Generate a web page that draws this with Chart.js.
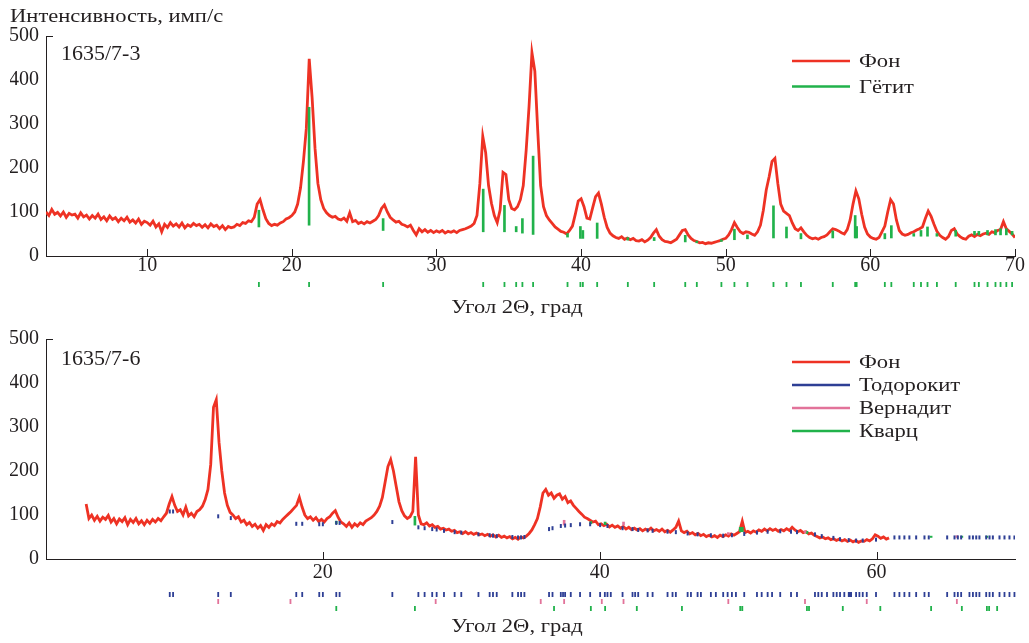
<!DOCTYPE html>
<html lang="ru">
<head>
<meta charset="utf-8">
<title>Дифрактограммы 1635/7-3 и 1635/7-6</title>
<script src="https://cdn.jsdelivr.net/npm/chart.js@4.4.1/dist/chart.umd.min.js"></script>
<style>
  body { margin: 0; background: #fff; }
  .panel { position: absolute; left: 0; width: 1029px; }
</style>
</head>
<body>
<div class="panel" style="top:0;height:320px"><canvas id="chartTop"></canvas></div>
<div class="panel" style="top:320px;height:323px"><canvas id="chartBottom"></canvas></div>
<script>
const FONT = "'Liberation Serif', 'Times New Roman', serif";
const INK = '#231F20';
const RED = '#EE3224';
const BLUE = '#2E3F95';
const PINK = '#E2739A';
const GREEN = '#21B24B';

const yTicks = [0, 100, 200, 300, 400, 500];

// --- sample 1635/7-3 : scan from 3.0 deg, 0.2 deg step
const scanStart1 = 3.0;
const scanStep1 = 0.2;
const counts1 = [
  100, 92, 106, 95, 99,   91, 100, 88, 97, 93,   95, 86, 98, 89, 93,   84, 92, 86, 95, 83,
  89, 80, 91, 83, 87,     78, 86, 80, 88, 77,    82, 75, 84, 72, 79,   76, 70, 79, 66, 73,
  55, 72, 65, 76, 68,     73, 66, 75, 64, 71,    67, 74, 69, 72, 65,   71, 64, 73, 67, 70,
  62, 69, 60, 67, 64,     66, 72, 69, 76, 74,    80, 78, 88, 118, 128, 105, 85, 74, 69, 72,
  70, 75, 78, 84, 87,     92, 100, 118, 155, 215, 290, 448, 360, 245, 165, 128, 108, 98, 92, 88,
  90, 84, 82, 86, 79,     98, 78, 81, 74, 77,    73, 78, 75, 79, 83,   92, 108, 116, 100, 88,
  82, 77, 79, 72, 70,     66, 70, 58, 48, 62,    55, 60, 54, 58, 53,   57, 54, 58, 52, 56,
  54, 57, 53, 58, 60,     62, 65, 68, 74, 92,    165, 272, 235, 160, 120, 92, 76, 105, 190, 185,
  128, 108, 105, 112, 128, 160, 240, 340, 462, 420, 285, 160, 112, 92, 82, 74, 66, 61, 56, 54,
  50, 58, 68, 95, 125,    130, 112, 86, 84, 110, 135, 143, 118, 88, 65, 52, 46, 42, 40, 44,
  38, 41, 37, 40, 35,     34, 37, 32, 36, 42,    52, 60, 45, 37, 33,   32, 30, 34, 38, 48,
  58, 60, 48, 40, 35,     33, 30, 31, 28, 30,    29, 31, 33, 35, 38,   40, 48, 60, 76, 65,
  55, 51, 55, 54, 50,     47, 55, 70, 104, 150,  180, 215, 222, 165, 118, 102, 97, 92, 75, 62,
  58, 64, 55, 47, 42,     39, 41, 38, 42, 44,    48, 55, 62, 60, 57,   53, 50, 60, 82, 118,
  148, 130, 95, 66, 50,   43, 40, 38, 42, 55,    68, 100, 128, 118, 82, 58, 50, 47, 49, 53,
  55, 59, 62, 66, 85,     102, 90, 72, 56, 47,   42, 38, 44, 58, 62,   50, 44, 40, 38, 45,
  48, 44, 49, 46, 50,     52, 49, 55, 53, 58,    60, 78, 62, 56, 50,   42
];
const goethiteAngles = [17.72, 21.19, 26.31, 33.23, 34.7, 35.51, 35.94, 36.68, 39.06, 39.95, 40.12, 41.11, 43.23,
  45.05, 47.2, 48.0, 49.7, 50.6, 51.5, 53.3, 54.2, 55.2, 57.4, 58.95, 59.05, 61.0, 61.45, 63.0, 63.5, 63.95,
  64.6, 65.9, 67.2, 67.5, 68.1, 68.65, 69.0, 69.4, 69.8];
const goethiteBase = [66, 70, 58, 55, 55, 55, 52, 49, 43, 40, 40, 40, 36, 35, 32, 30, 33, 37, 39, 41, 41, 39, 41,
  41, 41, 39, 41, 45, 45, 45, 45, 45, 48, 48, 48, 48, 48, 48, 48];
const goethiteTop = [104, 338, 85, 152, 115, 67, 85, 227, 51, 67, 58, 75, 42, 42, 47, 34, 37, 61, 48, 114, 66, 51,
  57, 92, 67, 51, 69, 51, 58, 66, 51, 58, 56, 56, 58, 60, 62, 62, 56];
const xTicks1 = [10, 20, 30, 40, 50, 60, 70];

// --- sample 1635/7-6 : scan from 2.9 deg, 0.2 deg step
const scanStart2 = 2.9;
const scanStep2 = 0.2;
const counts2 = [
  125, 92, 100, 88, 97, 86,
  95, 90, 99, 84, 92,     80, 91, 85, 94, 78,    90, 83, 92, 80, 87,   78, 88, 81, 90, 84,
  92, 87, 96, 104, 125,   142, 122, 108, 112, 100, 118, 98, 104, 96, 108, 112, 120, 135, 158, 215,
  345, 362, 265, 200, 150, 122, 106, 100, 92, 96, 84, 88, 78, 83, 74,   79, 70, 76, 65, 78,
  72, 80, 76, 85, 82,     90, 96, 102, 108, 115, 122, 140, 118, 100, 92, 96, 88, 94, 85, 90,
  84, 92, 96, 104, 110,   95, 84, 80, 74, 82,    72, 80, 75, 82, 78,   86, 90, 94, 100, 108,
  120, 140, 175, 210, 226, 200, 165, 130, 110, 98, 92, 96, 108, 232, 100, 80, 78, 82, 75, 78,
  72, 74, 68, 70, 66,     68, 63, 65, 60, 62,    58, 62, 57, 60, 56,   59, 55, 57, 53, 56,
  52, 55, 50, 54, 49,     52, 48, 51, 46, 49,    45, 50, 48, 52, 58,   66, 78, 92, 118, 150,
  158, 145, 150, 138, 145, 148, 136, 142, 128, 132, 122, 115, 108, 102, 95, 92, 88, 84, 86, 78,
  80, 76, 79, 73, 77,     72, 75, 70, 74, 68,    72, 67, 70, 66, 69,   64, 68, 65, 70, 64,
  67, 63, 68, 62, 65,     61, 66, 72, 86, 64,    60, 63, 57, 60, 55,   58, 53, 56, 51, 54,
  50, 53, 49, 54, 51,     55, 52, 57, 54, 58,    62, 86, 60, 63, 59,   64, 61, 66, 63, 68,
  64, 69, 65, 68, 63,     67, 64, 69, 65, 72,    66, 62, 65, 60, 62,   57, 59, 54, 51, 48,
  50, 46, 48, 44, 46,     42, 45, 41, 44, 40,    43, 39, 42, 38, 41,   40, 44, 41, 46, 55,
  52, 47, 50, 45, 48
];
const todorokiteAngles = [8.94, 9.18, 12.44, 13.35, 18.08, 18.51, 19.74, 20.0, 20.97, 21.21, 25.02, 26.9, 27.35,
  27.9, 28.22, 28.75, 29.52, 30.0, 31.24, 32.05, 32.29, 32.56, 33.69, 34.1, 34.32, 34.56, 36.34, 36.59, 37.19,
  37.35, 37.5, 37.91, 38.58, 39.31, 40.03, 40.37, 40.56, 40.8, 41.65, 42.37, 42.56, 42.78, 43.46, 43.82, 44.9,
  45.26, 45.5, 46.35, 46.59, 47.07, 47.31, 48.03, 48.39, 48.92, 49.24, 49.55, 49.84, 50.44, 51.36, 51.7, 52.13,
  52.45, 53.04, 53.82, 54.25, 55.55, 55.79, 56.04, 56.42, 56.88, 57.12, 57.36, 57.67, 57.99, 58.08, 58.16, 58.52,
  58.76, 59.0, 59.29, 59.96, 61.29, 61.65, 62.01, 62.37, 62.86, 63.46, 63.77, 65.1, 65.63, 65.87, 66.11, 66.71,
  66.96, 67.2, 67.43, 67.92, 68.16, 68.4, 68.88, 69.24, 69.6, 69.96];
const vernaditeAngles = [12.44, 17.66, 28.15, 35.74, 37.43, 40.15, 41.72, 49.29, 54.83, 59.29, 65.8];
const quartzAngles = [20.97, 26.65, 36.7, 39.36, 40.39, 42.68, 45.94, 50.15, 50.3, 54.97, 55.12, 57.56, 60.27,
  63.94, 66.16, 67.97, 68.13, 68.71];

// calculated todorokite positions seen inside the plot
const todorokiteDotAngles = [8.94, 9.18, 12.44, 13.35, 18.08, 18.51, 19.74, 20.0, 20.97, 21.21, 25.02, 26.9, 27.35,
  27.9, 28.22, 28.75, 29.52, 30.0, 31.24, 32.05, 32.29, 32.56, 33.69, 34.1, 34.32, 34.56, 36.34, 36.59, 37.19, 37.5,
  37.91, 38.58, 39.31, 40.03, 40.56, 41.65, 42.37, 42.78, 43.46, 43.82, 44.9, 45.5, 46.35, 47.07, 48.03, 48.92,
  49.55, 50.44, 51.36, 52.13, 53.04, 53.82, 54.25, 55.55, 56.04, 56.88, 57.36, 57.99, 58.52, 59.0, 59.96, 61.29,
  61.65, 62.01, 62.37, 62.86, 63.46, 63.77, 65.1, 65.63, 65.87, 66.11, 66.71, 66.96, 67.2, 67.43, 67.92, 68.16,
  68.4, 68.88, 69.24, 69.6, 69.96];
const todorokiteDotLevels = [108, 108, 97, 93, 80, 80, 79, 79, 82, 82, 84, 72, 70, 68, 67, 64, 61, 60, 56, 54, 53,
  52, 50, 49, 49, 50, 68, 70, 75, 76, 77, 79, 79, 77, 75, 70, 68, 66, 65, 64, 62, 61, 58, 56, 54, 53, 54, 57, 60,
  62, 63, 62, 61, 56, 52, 48, 45, 43, 42, 42, 44, 49, 49, 49, 49, 49, 49, 49, 49, 49, 49, 49, 49, 49, 49, 49, 49,
  49, 49, 49, 49, 49, 49];
const vernaditeStickAngles = [37.43, 41.72, 49.29, 54.83, 65.8];
const vernaditeStickBase = [77, 77, 55, 60, 49];
const vernaditeStickTop = [88, 84, 60, 64, 53];
const quartzStickAngles = [20.97, 26.65, 39.36, 40.39, 50.15, 50.3, 54.97, 63.94, 66.16, 67.97];
const quartzStickBase = [80, 77, 80, 78, 62, 62, 58, 49, 49, 49];
const quartzStickTop = [86, 97, 85, 84, 72, 72, 63, 52, 52, 52];
const xTicks2 = [20, 40, 60];

const scan = (start, step, counts) => counts.map((c, i) => ({ x: +(start + i * step).toFixed(2), y: c }));
const sticks = (angles, base, top) => angles.map((a, i) => ({ x: a, y: [base[i], top[i]] }));
const points = (angles, levels) => angles.map((a, i) => ({ x: a, y: levels[i] }));

// the printed figure is stretched sideways, so text is widened a little
function drawText(ctx, text, x, y, size, sx, align) {
  ctx.save();
  ctx.font = size + 'px ' + FONT;
  ctx.fillStyle = INK;
  ctx.textBaseline = 'alphabetic';
  ctx.textAlign = align || 'left';
  ctx.translate(x, y);
  ctx.scale(sx, 1);
  ctx.fillText(text, 0, 0);
  ctx.restore();
}

// inward ticks, reflection rows under the axis, titles, sample name and legend
const xrdDecor = {
  id: 'xrdDecor',
  afterDraw(chart, args, opts) {
    const { ctx, chartArea: area, scales: { x, y } } = chart;
    ctx.save();
    ctx.strokeStyle = INK;
    ctx.lineWidth = 1;
    ctx.beginPath();
    x.ticks.forEach(t => {
      const px = Math.round(x.getPixelForValue(t.value)) + 0.5;
      ctx.moveTo(px, area.bottom);
      ctx.lineTo(px, area.bottom - 7);
    });
    const top = Math.round(y.getPixelForValue(y.max)) + 0.5;
    ctx.moveTo(area.left, top);
    ctx.lineTo(area.left + 7, top);
    ctx.stroke();

    opts.rows.forEach(r => {
      ctx.strokeStyle = r.color;
      ctx.lineWidth = 1.8;
      ctx.beginPath();
      r.angles.forEach(a => {
        const px = x.getPixelForValue(a);
        ctx.moveTo(px, area.bottom + r.offset);
        ctx.lineTo(px, area.bottom + r.offset + 5);
      });
      ctx.stroke();
    });

    if (opts.yTitle) drawText(ctx, opts.yTitle, 10, 22, 18.5, 1.22);
    drawText(ctx, opts.xTitle, 517, opts.xTitleY, 18.5, 1.22, 'center');
    drawText(ctx, opts.sample, 61, opts.sampleY, 20, 1.1);

    chart.data.datasets.forEach((ds, i) => {
      const yy = opts.legendY + i * opts.legendGap;
      ctx.strokeStyle = ds.borderColor;
      ctx.lineWidth = 2.5;
      ctx.beginPath();
      ctx.moveTo(opts.legendX, yy);
      ctx.lineTo(opts.legendX + 58, yy);
      ctx.stroke();
      drawText(ctx, ds.label, opts.legendX + 67, yy + 6, 18.7, 1.21);
    });
    ctx.restore();
  }
};

function axes(xMin, xMax, xTicks, axisHeight, labelPad) {
  return {
    x: {
      type: 'linear', min: xMin, max: xMax, offset: false,
      grid: { display: false, drawTicks: false },
      border: { display: true, color: INK, width: 1 },
      ticks: { color: INK, font: { family: FONT, size: 20 }, padding: labelPad, maxRotation: 0 },
      afterBuildTicks: s => { s.ticks = xTicks.map(v => ({ value: v })); },
      afterFit: s => { s.height = axisHeight; }
    },
    y: {
      min: 0, max: 500,
      grid: { display: false, drawTicks: false },
      border: { display: true, color: INK, width: 1 },
      ticks: { color: INK, font: { family: FONT, size: 20 }, padding: 7 },
      afterBuildTicks: s => { s.ticks = yTicks.map(v => ({ value: v })); },
      afterFit: s => { s.width = 36; }
    }
  };
}

const common = {
  responsive: true,
  maintainAspectRatio: false,
  animation: false,
  events: [],
  elements: { point: { radius: 0 }, line: { tension: 0 } }
};

new Chart(document.getElementById('chartTop'), {
  type: 'line',
  data: {
    datasets: [
      { label: 'Фон', data: scan(scanStart1, scanStep1, counts1), borderColor: RED, backgroundColor: RED,
        borderWidth: 2.8, pointRadius: 0, order: 2 },
      { type: 'bar', label: 'Гётит', data: sticks(goethiteAngles, goethiteBase, goethiteTop),
        borderColor: GREEN, backgroundColor: GREEN, barThickness: 2, grouped: false, order: 1 }
    ]
  },
  options: {
    ...common,
    layout: { padding: { left: 10, right: 14, top: 36, bottom: 0 } },
    scales: axes(3, 70, xTicks1, 64, -2),
    plugins: {
      legend: { display: false },
      tooltip: { enabled: false },
      xrdDecor: {
        rows: [{ angles: goethiteAngles, color: GREEN, offset: 26 }],
        yTitle: 'Интенсивность, имп/с', xTitle: 'Угол 2Θ, град', xTitleY: 313,
        sample: '1635/7-3', sampleY: 60,
        legendX: 792, legendY: 61, legendGap: 25.5
      }
    }
  },
  plugins: [xrdDecor]
});

new Chart(document.getElementById('chartBottom'), {
  type: 'line',
  data: {
    datasets: [
      { label: 'Фон', data: scan(scanStart2, scanStep2, counts2), borderColor: RED, backgroundColor: RED,
        borderWidth: 2.8, pointRadius: 0, order: 4 },
      { type: 'scatter', label: 'Тодорокит', data: points(todorokiteDotAngles, todorokiteDotLevels),
        borderColor: BLUE, backgroundColor: BLUE, pointStyle: 'line', rotation: 90, pointRadius: 2,
        borderWidth: 2, order: 1 },
      { type: 'bar', label: 'Вернадит', data: sticks(vernaditeStickAngles, vernaditeStickBase, vernaditeStickTop),
        borderColor: PINK, backgroundColor: PINK, barThickness: 2, grouped: false, order: 2 },
      { type: 'bar', label: 'Кварц', data: sticks(quartzStickAngles, quartzStickBase, quartzStickTop),
        borderColor: GREEN, backgroundColor: GREEN, barThickness: 2, grouped: false, order: 3 }
    ]
  },
  options: {
    ...common,
    layout: { padding: { left: 10, right: 14, top: 16, bottom: 0 } },
    scales: axes(0, 70, xTicks2, 84, 2),
    plugins: {
      legend: { display: false },
      tooltip: { enabled: false },
      xrdDecor: {
        rows: [
          { angles: todorokiteAngles, color: BLUE, offset: 33 },
          { angles: vernaditeAngles, color: PINK, offset: 40 },
          { angles: quartzAngles, color: GREEN, offset: 47 }
        ],
        xTitle: 'Угол 2Θ, град', xTitleY: 312,
        sample: '1635/7-6', sampleY: 45,
        legendX: 792, legendY: 42, legendGap: 23
      }
    }
  },
  plugins: [xrdDecor]
});
</script>
</body>
</html>
